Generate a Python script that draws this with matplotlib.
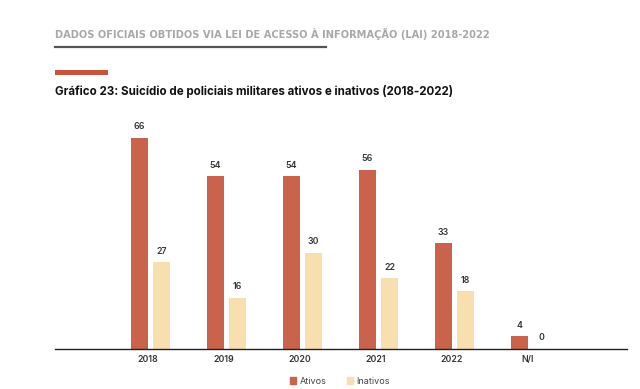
import numpy as np
import matplotlib.pyplot as plt
from matplotlib.patches import Rectangle
from matplotlib.lines import Line2D

categorias = ['2018', '2019', '2020', '2021', '2022', 'N/I']
ativos = [66, 54, 54, 56, 33, 4]
inativos = [27, 16, 30, 22, 18, 0]

COR_ATIVOS = '#C9634B'
COR_INATIVOS = '#F7DFB0'
FONTE = ['Inter', 'DejaVu Sans']

fig = plt.figure(figsize=(6.4, 3.89), dpi=100)
fig.patch.set_facecolor('white')

# cabeçalho
fig.text(55 / 640, 1 - 34 / 389, 'DADOS OFICIAIS OBTIDOS VIA LEI DE ACESSO À INFORMAÇÃO (LAI) 2018-2022',
         fontsize=7.1, color='#a8a8a8', fontweight='bold', family=['DejaVu Sans'],
         ha='left', va='center')
fig.add_artist(Line2D([55 / 640, 326 / 640], [1 - 47.3 / 389] * 2, color='#555555', lw=1.6,
                      transform=fig.transFigure))
fig.add_artist(Rectangle((55 / 640, 1 - 75 / 389), 53 / 640, 5 / 389, color='#C9533C',
                         transform=fig.transFigure, lw=0))
fig.text(55 / 640, 1 - 92 / 389, 'Gráfico 23: Suicídio de policiais militares ativos e inativos (2018-2022)',
         fontsize=8.3, color='#111111', fontweight='bold', family=FONTE,
         ha='left', va='center')

ax = fig.add_axes([55 / 640, (389 - 348.7) / 389, 572 / 640, (348.7 - 120) / 389])
x = np.arange(len(categorias))
w = 0.224
off = 0.145
b1 = ax.bar(x - off, ativos, w, color=COR_ATIVOS)
b2 = ax.bar(x + off, inativos, w, color=COR_INATIVOS)

for barras in (b1, b2):
    for b in barras:
        h = b.get_height()
        ax.annotate(str(int(h)), (b.get_x() + b.get_width() / 2, h),
                    xytext=(0, 4.5), textcoords='offset points',
                    ha='center', va='bottom', fontsize=6.3, fontweight='semibold',
                    color='#333333', family=FONTE)

ax.set_xlim(-1.257, 6.27)
ax.set_ylim(0, 71.5)
ax.set_xticks(x - 0.04)
ax.set_xticklabels(categorias, fontsize=6.3, fontweight='semibold', color='#333333', family=FONTE)
ax.tick_params(axis='x', length=0, pad=4.5)
ax.set_yticks([])
for s in ['top', 'right', 'left']:
    ax.spines[s].set_visible(False)
ax.spines['bottom'].set_color('#222222')
ax.spines['bottom'].set_linewidth(1.0)

# legenda
leg = fig.legend(handles=[Rectangle((0, 0), 1, 1, color=COR_ATIVOS),
                          Rectangle((0, 0), 1, 1, color=COR_INATIVOS)],
                 labels=['Ativos', 'Inativos'], loc='center',
                 bbox_to_anchor=(340 / 640, 1 - 381 / 389), ncol=2, frameon=False,
                 handlelength=0.7, handleheight=0.7, handletextpad=0.4, columnspacing=2.2,
                 prop={'family': FONTE, 'size': 6.5})
for t in leg.get_texts():
    t.set_color('#444444')

plt.savefig('out.png', dpi=100)
